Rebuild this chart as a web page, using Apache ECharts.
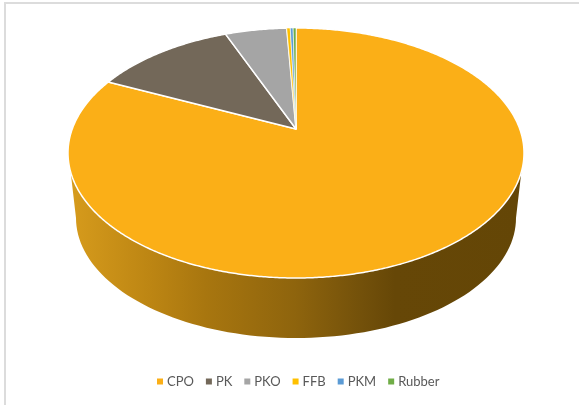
<!DOCTYPE html>
<html>
<head>
<meta charset="utf-8">
<style>html,body{margin:0;padding:0;background:#fff}#c{width:579px;height:405px}</style>
<script src="https://cdn.jsdelivr.net/npm/echarts@6/dist/echarts.min.js"></script>
</head>
<body>
<div id="c"></div>
<script>
const categories = ['CPO', 'PK', 'PKO', 'FFB', 'PKM', 'Rubber'];
const shares = [84.6, 10.4, 4.35, 0.25, 0.2, 0.2];
const colors = ['#FBAF17', '#736859', '#A5A5A5', '#FFC000', '#5B9BD5', '#70AD47'];

const rim = { cx: 296, cy: 153, rx: 228, ry: 125, apexY: 129 };
const base = { cx: 296, cy: 218, rx: 220, ry: 120 };
const wallTopY = 172;
const wallStops = [
  [0, '#D69B1C'], [0.18, '#BC8513'], [0.3, '#A8760F'], [0.5, '#8E640D'],
  [0.65, '#72500A'], [0.72, '#664707'], [1, '#644606']
];

const total = shares.reduce((a, b) => a + b, 0);
const chart = echarts.init(document.getElementById('c'), null, { renderer: 'canvas' });

function rimPoint(turn) {
  const t = turn * Math.PI * 2;
  return [rim.cx + rim.rx * Math.sin(t), rim.cy - rim.ry * Math.cos(t)];
}

// Slices run clockwise from 12 o'clock, as in the reference.
function sliceRender(index) {
  return function () {
    let start = 0;
    for (let i = 0; i < index; i++) start += shares[i] / total;
    const span = shares[index] / total;
    const pts = [[rim.cx, rim.apexY]];
    const steps = Math.max(2, Math.ceil(span * 720));
    for (let s = 0; s <= steps; s++) pts.push(rimPoint(start + span * s / steps));
    return {
      type: 'polygon',
      shape: { points: pts },
      style: { fill: colors[index], stroke: '#ffffff', lineWidth: index < 3 ? 1.5 : 0.6, lineJoin: 'round' }
    };
  };
}

function wallRender() {
  const pts = [];
  const dx = Math.sqrt(1 - Math.pow((wallTopY - rim.cy) / rim.ry, 2)) * rim.rx;
  pts.push([rim.cx - dx, wallTopY]);
  for (let a = 0; a <= 180; a += 2) {
    const t = a * Math.PI / 180;
    pts.push([base.cx - base.rx * Math.cos(t), base.cy + base.ry * Math.sin(t)]);
  }
  pts.push([rim.cx + dx, wallTopY]);
  return {
    type: 'polygon',
    shape: { points: pts },
    style: {
      fill: new echarts.graphic.LinearGradient(0, 0, 1, 0,
        wallStops.map(s => ({ offset: s[0], color: s[1] })))
    }
  };
}

const sliceSeries = categories.map((name, i) => ({
  type: 'custom',
  name: name,
  coordinateSystem: 'none',
  silent: true,
  z: 3,
  itemStyle: { color: colors[i] },
  renderItem: sliceRender(i),
  data: [[shares[i]]]
}));

chart.setOption({
  animation: false,
  backgroundColor: '#ffffff',
  tooltip: { show: false },
  legend: {
    data: categories,
    left: 152,
    top: 370,
    icon: 'rect',
    itemWidth: 6,
    itemHeight: 6,
    itemGap: 12,
    selectedMode: false,
    textStyle: { color: '#595959', fontFamily: 'Lato', fontSize: 13, padding: [0, 0, 0, -1] }
  },
  graphic: [
    { type: 'rect', silent: true, shape: { x: 4, y: 2, width: 575, height: 2 }, style: { fill: '#DCDCDC' } },
    { type: 'rect', silent: true, shape: { x: 4, y: 2, width: 2, height: 403 }, style: { fill: '#DCDCDC' } }
  ],
  series: [{
    type: 'custom',
    name: 'wall',
    coordinateSystem: 'none',
    silent: true,
    z: 2,
    renderItem: wallRender,
    data: [[1]]
  }].concat(sliceSeries)
});
</script>
</body>
</html>
